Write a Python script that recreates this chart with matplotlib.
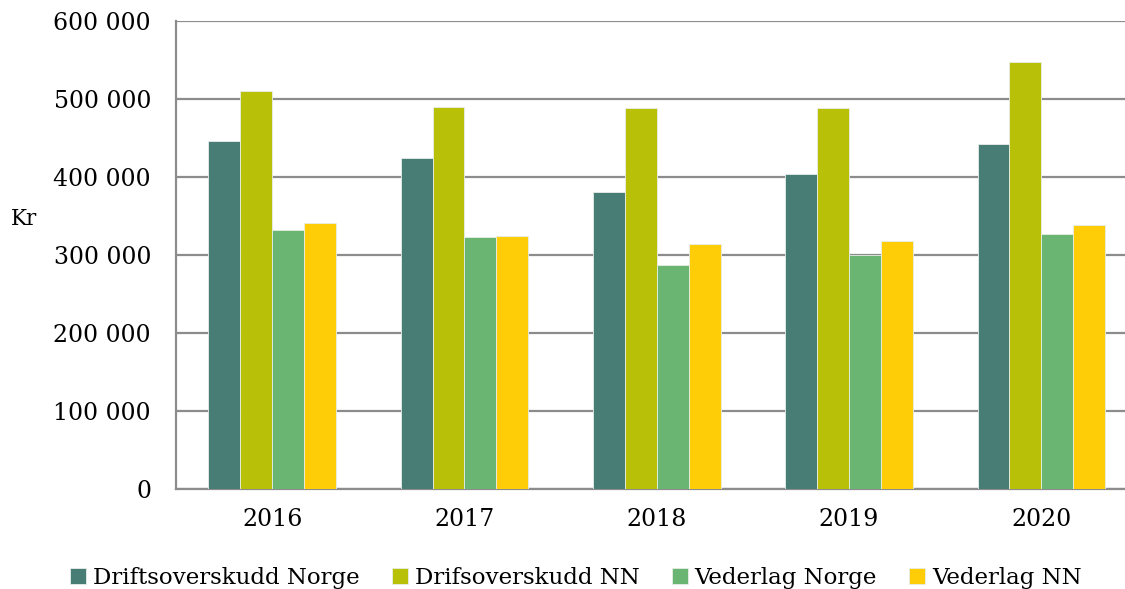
import numpy as np
import matplotlib.pyplot as plt

years = ["2016", "2017", "2018", "2019", "2020"]
series_names = ["Driftsoverskudd Norge", "Drifsoverskudd NN", "Vederlag Norge", "Vederlag NN"]
drift_norge = [446000, 424000, 381000, 404000, 442000]
drift_nn = [510000, 490000, 488000, 488000, 547000]
vederlag_norge = [332000, 323000, 287000, 300000, 327000]
vederlag_nn = [341000, 324000, 314000, 318000, 338000]
colors = ["#477D74", "#B8C108", "#69B571", "#FECD08"]

plt.rcParams['font.family'] = ['DejaVu Serif']

fig = plt.figure(figsize=(11.25, 5.89), dpi=100)
ax = fig.add_axes([176 / 1125, 1 - 489 / 589, 961.5 / 1125, (489 - 21) / 589])

x = np.arange(len(years))
w = 0.166
data = [drift_norge, drift_nn, vederlag_norge, vederlag_nn]
for i, (vals, name, c) in enumerate(zip(data, series_names, colors)):
    ax.bar(x + (i - 1.5) * w, vals, width=w, color=c, label=name,
           edgecolor="#e8eee8", linewidth=0.6, zorder=3)

ax.set_xlim(-0.5, len(years) - 0.5)
ax.set_ylim(0, 600000)
ax.set_yticks(np.arange(0, 600001, 100000))
ax.set_yticklabels(["0" if v == 0 else f"{v // 1000} 000" for v in range(0, 600001, 100000)])
ax.set_xticks(x)
ax.set_xticklabels(years)
ax.tick_params(axis="both", length=0, labelsize=17)
ax.tick_params(axis="y", pad=18)
ax.tick_params(axis="x", pad=14)

ax.grid(axis="y", color="#8c8c8c", linewidth=1.6, zorder=0)
for s in ["top", "right"]:
    ax.spines[s].set_visible(False)
for s in ["left", "bottom"]:
    ax.spines[s].set_color("#8c8c8c")
    ax.spines[s].set_linewidth(1.6)

fig.text(11 / 1125, 1 - 219 / 589, "Kr", fontsize=15.5, va="center", ha="left")

fig.legend(loc="center", bbox_to_anchor=(0.512, 1 - 578 / 589), ncol=4, frameon=False,
           fontsize=16.5, handlelength=0.7, handleheight=0.7, handletextpad=0.3,
           columnspacing=1.4)

fig.savefig("out.png", dpi=100)
